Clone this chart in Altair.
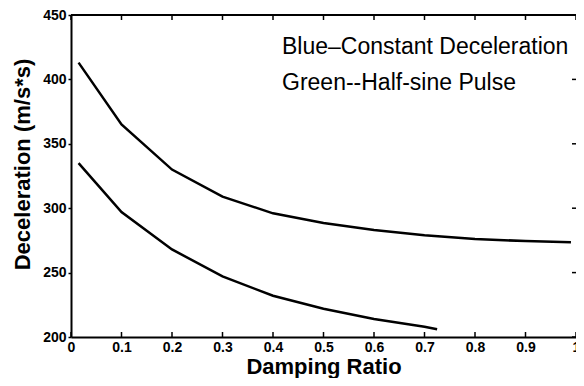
import altair as alt
import pandas as pd

# Data
blue_x = [0.015, 0.1, 0.2, 0.3, 0.4, 0.5, 0.6, 0.7, 0.8, 0.9, 0.99]
blue_y = [413, 365, 330, 309, 296, 288.5, 283, 279, 276, 274.5, 273.5]
green_x = [0.015, 0.1, 0.2, 0.3, 0.4, 0.5, 0.6, 0.7, 0.725]
green_y = [335, 297, 268, 247, 232, 222, 214, 208, 206]
x_ticks = [0, 0.1, 0.2, 0.3, 0.4, 0.5, 0.6, 0.7, 0.8, 0.9, 1]
y_ticks = [200, 250, 300, 350, 400, 450]
legend_lines = ["Blue\u2013Constant Deceleration", "Green--Half-sine Pulse"]

W, H = 505, 322
FONT = "Liberation Sans"

df = pd.DataFrame(
    {"x": blue_x + green_x,
     "y": blue_y + green_y,
     "series": ["Blue"] * len(blue_x) + ["Green"] * len(green_x)}
)
xt = pd.DataFrame({"v": x_ticks})
yt = pd.DataFrame({"v": y_ticks})

xscale = alt.Scale(domain=[0, 1], nice=False, zero=False)
yscale = alt.Scale(domain=[200, 450], nice=False, zero=False)

lines = alt.Chart(df).mark_line(color="black", strokeWidth=2.5).encode(
    x=alt.X("x:Q", scale=xscale, axis=alt.Axis(
        values=x_ticks, title="Damping Ratio", labelExpr="datum.value == 0 ? '0' : format(datum.value, '.1~f')",
        grid=False, ticks=False, domain=True, domainColor="black", domainWidth=2,
        labelFont=FONT, labelFontSize=14, labelFontWeight="bold", labelColor="black",
        labelPadding=3, titleFont=FONT, titleFontSize=22, titleFontWeight="bold",
        titleColor="black", titlePadding=2, labelFlush=False)),
    y=alt.Y("y:Q", scale=yscale, axis=alt.Axis(
        values=y_ticks, title="Deceleration (m/s*s)", grid=False, ticks=True,
        tickSize=3, tickColor="black", tickWidth=1.5,
        domain=True, domainColor="black", domainWidth=2,
        labelFont=FONT, labelFontSize=14, labelFontWeight="bold", labelColor="black",
        labelPadding=2, titleFont=FONT, titleFontSize=22, titleFontWeight="bold",
        titleColor="black", titlePadding=8, titleY=149)),
    detail="series:N",
)

bottom_ticks = alt.Chart(xt).mark_rule(color="black", strokeWidth=1.5).encode(
    x=alt.X("v:Q", scale=xscale), y=alt.value(H), y2=alt.value(H - 5))
top_ticks = alt.Chart(xt).mark_rule(color="black", strokeWidth=1.5).encode(
    x=alt.X("v:Q", scale=xscale), y=alt.value(0), y2=alt.value(5))
right_ticks = alt.Chart(yt).mark_rule(color="black", strokeWidth=1.5).encode(
    y=alt.Y("v:Q", scale=yscale), x=alt.value(W - 4), x2=alt.value(W))
top_line = alt.Chart(xt).mark_rule(color="black", strokeWidth=1.5).encode(
    x=alt.value(0), x2=alt.value(W), y=alt.value(0))

leg = pd.DataFrame({"t": legend_lines, "i": [0, 1]})
legend1 = alt.Chart(leg.iloc[[0]]).mark_text(
    align="left", baseline="middle", font=FONT, fontSize=23, color="black").encode(
    text="t:N", x=alt.value(211), y=alt.value(32))
legend2 = alt.Chart(leg.iloc[[1]]).mark_text(
    align="left", baseline="middle", font=FONT, fontSize=23, color="black").encode(
    text="t:N", x=alt.value(211), y=alt.value(68))

chart = alt.layer(lines, bottom_ticks, top_ticks, right_ticks, top_line, legend1, legend2).properties(
    width=W, height=H,
    autosize=alt.AutoSizeParams(type="none"),
    padding={"left": 63, "top": 7, "right": 0, "bottom": 41},
    background="white",
).configure_view(stroke=None)

chart.save("out.html", embed_options={"renderer": "svg", "actions": False})
